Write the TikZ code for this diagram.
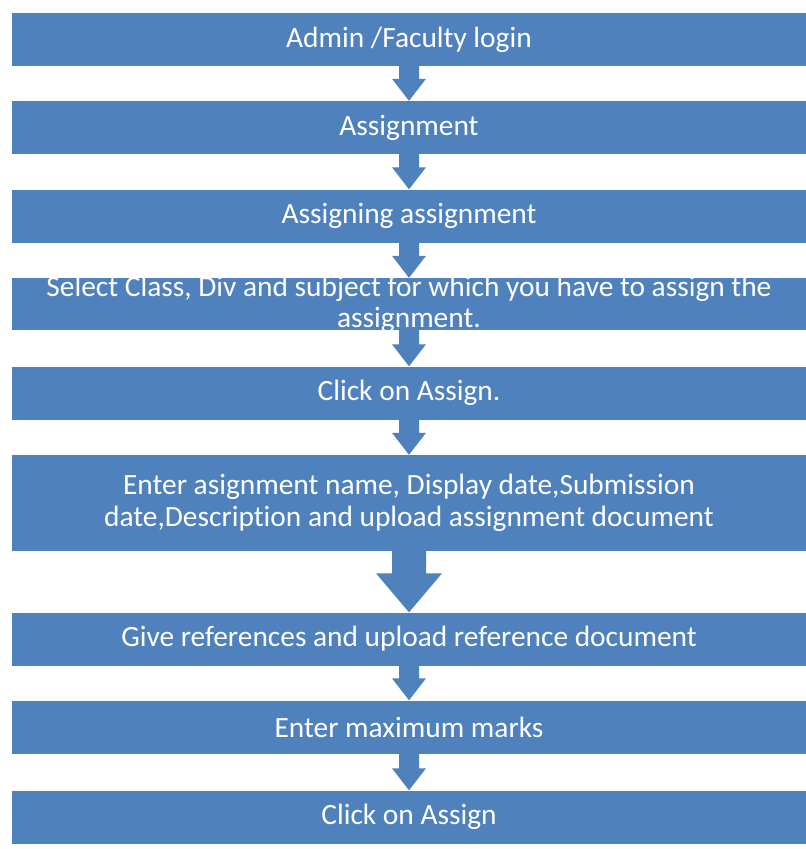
\documentclass[tikz,border=0pt]{standalone}
\usepackage{fontspec}
\setmainfont[Ligatures={NoCommon}]{Carlito}
\usetikzlibrary{calc}
\definecolor{boxblue}{RGB}{79,129,189}
\tikzset{
  stepbox/.style={fill=boxblue, text=white, minimum width=794pt, minimum height=53pt,
    inner sep=0pt, align=center, font=\fontsize{29.4}{32}\selectfont, anchor=center},
}
% #1 from node, #2 to node, #3 half shaft width, #4 half head width, #5 head length
\newcommand\flowarrow[5]{%
  \fill[boxblue] ($(#1.south)+(-#3,-1)$) -- ($(#2.north)+(-#3,-#5)$) -- ($(#2.north)+(-#4,-#5)$)
    -- (#2.north) -- ($(#2.north)+(#4,-#5)$) -- ($(#2.north)+(#3,-#5)$) -- ($(#1.south)+(#3,-1)$) -- cycle;}
\begin{document}
\begin{tikzpicture}[x=1pt,y=-1pt]
\useasboundingbox[fill=white] (0,0) rectangle (806,849);
\node[stepbox] (b1) at (409,39.5) {Admin /Faculty login};
\node[stepbox] (b2) at (409,127.5) {Assignment};
\node[stepbox] (b3) at (409,216) {Assigning assignment};
\node[stepbox, minimum height=52pt, text depth=0pt] (b4) at (409,304) {};
\node[text=white, align=center, font=\fontsize{29.4}{31}\selectfont, inner sep=0pt] (t4) at (409,304) {Select Class, Div and subject for which you have to assign the\\assignment.};
\node[stepbox] (b5) at (409,393) {Click on Assign.};
\node[stepbox, minimum height=96pt] (b6) at (409,503) {Enter asignment name, Display date,Submission\\date,Description and upload assignment document};
\node[stepbox] (b7) at (409,639) {Give references and upload reference document};
\node[stepbox] (b8) at (409,727) {Enter maximum marks};
\node[stepbox] (b9) at (409,817) {Click on Assign};
\flowarrow{b1}{b2}{10}{17}{22}
\flowarrow{b2}{b3}{10}{17}{22}
\flowarrow{b3}{b4}{10}{17}{22}
\flowarrow{b4}{b5}{10}{17}{22}
\flowarrow{b5}{b6}{10}{17}{22}
\flowarrow{b6}{b7}{17}{33}{39}
\flowarrow{b7}{b8}{10}{17}{22}
\flowarrow{b8}{b9}{10}{17}{22}
\end{tikzpicture}
\end{document}
